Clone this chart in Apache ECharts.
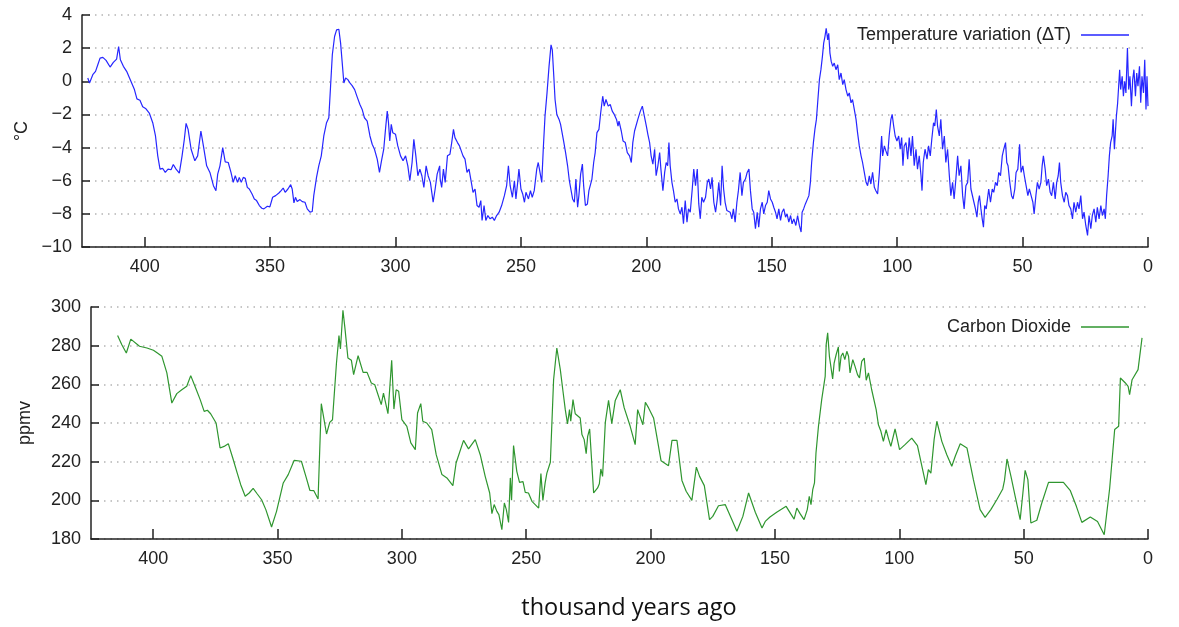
<!DOCTYPE html>
<html><head><meta charset="utf-8">
<script src="https://cdn.jsdelivr.net/npm/echarts@6/dist/echarts.min.js"></script>
<style>html,body{margin:0;padding:0;background:#fff}#c{width:1179px;height:627px}</style>
</head><body><div id="c"></div>
<script>
// ---- Data (thousand years ago, value) ----
const tempAge = [
422.7,422.0,420.7,419.6,418.7,417.8,416.7,415.4,413.8,412.5,411.2,410.4,409.7,408.5,407.2,405.5,404.1,403.1,401.9,400.8,399.5,398.1,396.8,395.7,394.8,393.9,392.8,391.8,390.7,389.5,388.6,387.5,386.2,385.1,384.2,383.5,382.7,381.5,380.0,378.9,377.6,376.6,375.3,374.0,372.6,371.6,370.9,370.0,368.9,367.9,366.7,365.6,364.7,363.9,363.0,362.3,361.5,360.7,359.9,359.1,358.3,357.2,356.3,355.4,354.3,353.3,
352.5,351.1,350.1,349.0,347.8,346.5,345.6,344.8,344.0,342.9,341.8,341.2,340.5,339.9,339.2,338.1,337.2,336.1,335.2,334.1,333.2,332.6,331.5,330.6,329.6,328.6,327.5,326.6,325.9,325.2,324.3,323.5,322.6,321.9,321.3,320.6,319.9,319.0,318.2,317.3,316.3,315.3,314.2,313.3,312.4,311.3,310.2,309.3,308.4,307.3,306.4,305.6,304.7,304.0,303.3,302.8,302.3,301.7,301.1,300.0,299.1,298.0,297.0,296.0,295.1,294.3,293.4,292.7,291.9,291.1,290.3,289.5,288.7,287.8,287.0,286.1,285.0,284.2,283.4,282.4,
282.2,281.6,280.9,280.2,279.3,278.3,277.6,276.9,276.3,275.3,274.5,273.9,273.1,272.3,271.5,270.7,269.9,269.1,268.3,267.5,266.7,266.0,265.5,264.7,264.0,263.2,262.3,261.4,260.6,259.7,258.7,257.7,256.6,255.7,255.0,254.3,253.4,252.6,252.0,251.3,250.8,250.0,249.3,248.6,248.0,247.0,246.2,245.5,244.7,243.7,243.1,242.4,241.7,241.1,240.4,239.6,238.8,238.0,237.5,236.9,236.4,235.7,234.8,234.2,233.5,233.0,232.2,231.4,230.7,230.0,229.4,228.7,228.1,227.4,226.9,226.2,225.5,225.0,224.3,223.5,222.9,222.2,221.7,221.0,220.4,219.7,218.9,218.2,217.4,216.8,216.1,215.2,214.4,213.6,212.8,211.9,211.3,
210.9,210.0,209.3,208.4,207.6,206.7,206.0,205.4,204.7,204.0,203.4,202.4,201.6,200.8,200.0,199.4,198.7,198.1,197.4,196.7,196.1,195.4,194.7,194.2,193.4,192.7,192.1,191.5,191.0,190.5,189.8,189.2,188.5,187.8,187.2,186.5,185.8,185.2,184.5,183.8,183.2,182.5,181.7,181.1,180.4,179.7,179.1,178.5,177.9,177.2,176.4,175.7,175.1,174.4,173.8,173.1,172.4,171.8,171.1,170.4,169.8,169.2,168.6,167.9,167.2,166.6,165.9,165.3,164.6,163.9,163.3,162.6,161.9,161.3,160.5,159.8,159.1,158.5,157.8,157.2,156.5,155.8,155.2,154.5,153.8,153.2,152.5,151.8,151.2,150.5,149.8,149.2,148.5,147.9,147.2,146.5,145.9,145.2,144.5,143.9,143.2,142.5,141.9,141.2,140.4,
139.7,139.0,138.3,137.9,137.3,136.6,136.0,135.2,134.6,134.1,133.4,132.8,132.2,131.7,131.0,130.4,129.8,129.3,128.8,128.3,127.7,127.3,126.8,126.3,125.7,125.1,124.4,123.7,123.1,122.4,121.7,121.1,120.4,119.7,119.1,118.4,117.8,117.1,116.4,115.8,115.1,114.4,113.8,113.1,112.4,111.8,111.1,110.5,109.8,109.1,108.5,107.8,107.1,106.7,106.2,105.8,105.1,104.5,103.8,103.2,102.5,102.0,101.4,100.8,100.1,99.4,98.8,98.2,97.7,97.2,96.5,95.8,95.2,94.5,93.9,93.2,92.5,91.9,91.2,90.5,90.1,89.6,88.9,88.1,87.5,86.8,86.2,85.5,85.0,84.4,83.9,83.2,82.6,81.9,81.2,80.6,79.9,79.2,78.6,77.9,77.3,76.6,75.9,75.3,74.6,73.9,73.3,72.6,71.9,71.3,70.6,
69.4,68.8,68.2,67.7,67.2,66.6,66.1,65.6,65.1,64.5,64.0,63.5,62.8,62.1,61.5,60.8,60.1,59.5,58.8,58.1,57.5,56.8,56.3,55.8,55.1,54.4,53.8,53.1,52.6,51.9,51.2,50.6,49.9,49.3,48.6,47.9,47.3,46.6,45.9,45.4,44.7,44.1,43.4,42.7,42.2,41.7,41.0,40.4,39.7,39.0,38.4,37.7,37.0,36.4,35.8,35.3,34.8,34.1,33.4,32.8,32.1,31.5,30.8,30.1,29.5,28.8,28.1,27.5,26.8,26.1,25.5,24.8,24.1,23.5,22.8,22.2,21.5,20.8,20.2,19.5,18.8,18.2,17.5,17.0,16.5,15.9,15.4,14.9,14.3,13.9,13.4,13.0,12.6,12.1,11.7,11.3,10.9,10.3,9.8,9.3,8.8,8.2,7.7,7.2,6.6,6.1,5.6,5.0,4.5,4.0,3.4,2.9,2.4,1.8,1.3,0.8,0.4,0.0
];
const tempVal = [
0.2,-0.1,0.4,0.6,1.0,1.4,1.44,1.26,0.86,1.14,1.34,2.1,1.3,0.9,0.6,0.0,-0.5,-1.06,-1.14,-1.54,-1.66,-1.94,-2.5,-3.3,-4.5,-5.3,-5.26,-5.5,-5.3,-5.34,-5.02,-5.3,-5.54,-4.5,-3.5,-2.54,-2.9,-4.1,-4.8,-4.5,-3.0,-3.9,-5.1,-5.5,-6.3,-6.6,-5.6,-5.1,-4.0,-4.86,-4.9,-5.5,-6.1,-5.7,-6.1,-5.8,-6.1,-5.8,-5.86,-6.4,-6.5,-6.8,-7.1,-7.2,-7.5,-7.66,
-7.7,-7.54,-7.58,-7.0,-6.9,-6.74,-6.6,-6.44,-6.7,-6.5,-6.24,-6.5,-7.34,-7.0,-7.26,-7.14,-7.26,-7.3,-7.7,-7.9,-7.86,-6.9,-5.8,-5.1,-4.5,-3.3,-2.5,-2.2,-0.3,1.6,2.7,3.1,3.14,2.3,1.2,-0.1,0.2,0.1,-0.1,-0.26,-0.5,-0.94,-1.4,-1.7,-2.2,-2.4,-3.3,-3.8,-4.1,-4.7,-5.5,-4.8,-4.1,-2.9,-1.8,-2.5,-3.6,-2.6,-3.1,-3.2,-3.9,-4.5,-4.8,-4.5,-5.1,-6.0,-4.9,-3.5,-4.5,-5.7,-5.3,-5.7,-6.4,-5.1,-5.7,-6.1,-7.3,-6.5,-5.6,-5.1,
-5.9,-6.4,-5.3,-6.1,-4.5,-4.4,-3.7,-2.9,-3.4,-3.7,-3.9,-3.8,-4.5,-4.7,-5.5,-5.3,-6.0,-6.7,-6.5,-7.5,-7.6,-7.2,-8.4,-7.5,-8.4,-8.1,-8.3,-8.2,-8.4,-8.1,-7.9,-7.5,-6.9,-6.3,-5.1,-6.3,-7.0,-6.0,-7.1,-6.1,-5.3,-6.5,-6.8,-7.3,-6.7,-7.1,-6.6,-7.0,-6.6,-5.3,-4.9,-5.5,-6.1,-4.1,-2.1,-0.7,0.9,2.2,1.9,0.3,-1.1,-2.0,-2.3,-2.6,-2.7,-3.6,-4.3,-5.1,-6.0,-5.9,-7.1,-7.3,-5.9,-7.6,-6.9,-5.6,-5.0,-6.3,-7.5,-7.4,-6.6,-6.5,-5.9,-4.9,-4.3,-3.1,-2.9,-1.9,-0.9,-1.5,-1.1,-1.5,-1.4,-1.8,-2.0,-2.3,-2.7,
-2.4,-3.0,-3.6,-3.7,-4.3,-4.5,-4.9,-3.7,-3.0,-3.1,-2.3,-1.8,-1.5,-2.1,-2.7,-3.2,-3.7,-4.5,-5.0,-4.1,-5.7,-5.1,-4.3,-5.3,-6.6,-5.5,-4.9,-5.1,-3.7,-5.1,-6.1,-6.6,-7.3,-7.1,-7.7,-8.0,-7.6,-8.6,-7.2,-8.5,-7.7,-7.9,-6.5,-5.3,-6.3,-5.3,-7.4,-8.3,-7.0,-7.3,-7.0,-6.1,-5.9,-6.5,-5.8,-7.3,-7.9,-7.2,-6.1,-7.5,-5.1,-6.5,-7.3,-7.8,-7.7,-7.9,-8.3,-7.7,-8.5,-7.3,-6.6,-5.5,-6.9,-6.1,-5.9,-5.5,-5.3,-6.6,-7.7,-7.9,-8.9,-7.9,-8.8,-7.7,-7.3,-8.0,-7.5,-7.3,-6.6,-7.1,-7.3,-7.6,-7.9,-8.3,-7.7,-8.4,-7.9,-7.7,-8.2,-8.0,-8.5,-8.1,-8.6,-8.3,-8.7,
-8.1,-8.7,-9.1,-7.9,-7.7,-7.4,-7.3,-6.9,-6.1,-4.9,-3.7,-2.9,-2.3,-1.3,0.1,0.7,1.5,2.3,2.7,3.2,2.5,2.9,1.7,1.2,0.9,1.1,0.7,1.0,0.1,0.5,-0.2,0.1,-0.5,-0.9,-0.7,-1.3,-1.1,-1.7,-2.3,-3.1,-3.9,-4.5,-4.9,-5.5,-6.1,-6.3,-5.7,-6.2,-5.5,-6.4,-6.6,-6.8,-5.5,-4.5,-3.3,-4.5,-3.9,-4.2,-4.5,-3.3,-2.3,-2.0,-2.7,-3.3,-3.6,-3.3,-4.1,-3.4,-5.1,-3.9,-3.7,-4.7,-3.4,-4.5,-3.3,-5.1,-4.1,-5.3,-4.5,-5.7,-6.6,-4.9,-4.1,-4.7,-3.9,-4.5,-3.5,-2.5,-2.7,-1.7,-2.7,-3.3,-2.3,-4.1,-3.3,-4.9,-4.1,-5.7,-6.9,-6.1,-7.1,-5.9,-4.5,-5.7,-5.1,-6.9,-7.7,-6.3,-6.1,-4.7,-6.5,
-7.3,-7.7,-8.2,-7.3,-6.9,-7.7,-8.3,-8.8,-7.5,-7.7,-7.1,-6.5,-7.3,-6.5,-6.7,-6.1,-6.3,-5.5,-5.7,-4.5,-4.1,-3.7,-4.9,-5.1,-6.1,-6.9,-7.1,-6.5,-5.5,-5.3,-3.8,-5.5,-5.1,-5.7,-6.3,-6.9,-6.5,-6.9,-7.3,-8.0,-6.9,-6.1,-6.5,-6.1,-5.1,-4.5,-5.3,-6.3,-5.9,-6.7,-6.9,-6.1,-7.1,-6.1,-5.7,-4.9,-6.1,-6.9,-7.3,-6.7,-6.9,-7.5,-7.7,-8.3,-7.3,-7.9,-7.3,-7.7,-6.9,-8.3,-7.9,-8.7,-9.3,-8.1,-8.9,-8.1,-7.7,-8.5,-7.6,-8.3,-7.5,-8.1,-7.7,-8.3,-6.9,-5.7,-4.5,-3.7,-3.3,-2.3,-4.1,-3.1,-2.1,-1.3,-0.3,0.7,-0.5,0.3,-0.9,0.0,-0.7,2.0,-0.5,0.3,-1.5,0.1,0.7,-0.9,0.5,-0.3,0.9,-1.3,0.3,-0.7,1.3,-1.7,0.3,-1.5
];
const co2Age = [
414.3,412.6,410.8,409.0,405.5,402.5,399.9,398.3,396.5,394.5,392.5,390.5,388.5,386.5,384.9,383.2,381.1,379.5,378.2,376.9,374.7,373.1,371.5,369.8,368.0,366.2,364.8,363.0,361.4,359.8,358.2,356.4,354.7,352.4,350.4,347.7,345.7,343.3,340.4,338.6,337.0,335.4,333.7,332.4,330.3,329.0,327.9,326.3,325.3,324.7,323.7,322.9,321.7,320.3,319.4,317.6,315.6,314.0,312.3,310.9,308.3,307.4,305.6,304.1,303.2,302.3,301.3,300.0,298.0,296.4,294.6,293.7,292.4,291.6,290.0,288.0,286.2,283.9,281.9,279.5,278.2,275.2,273.2,270.5,268.5,266.5,264.7,263.8,262.9,261.8,261.0,259.8,258.8,258.0,257.1,256.4,255.9,255.1,253.8,252.7,251.3,250.4,249.1,247.7,245.0,244.1,243.3,242.4,241.7,240.3,239.0,237.7,236.3,235.3,234.3,233.4,232.6,232.1,231.2,230.3,228.3,227.6,226.7,225.9,225.3,224.5,222.9,221.3,220.6,220.0,219.3,218.2,216.9,215.6,214.2,212.2,210.6,208.2,206.2,205.2,204.4,203.1,202.1,200.8,198.8,195.8,192.8,191.4,189.4,187.4,185.7,183.4,181.6,180.3,178.4,176.3,175.0,172.7,170.0,167.3,165.3,162.9,160.6,157.9,155.2,153.9,152.0,149.3,145.5,143.7,142.3,141.2,139.9,138.3,137.0,136.2,135.5,134.8,134.1,133.5,132.5,131.2,129.8,129.4,128.8,128.4,128.1,127.6,126.8,126.2,125.4,124.5,124.1,123.4,122.7,121.9,121.1,120.4,119.8,118.7,117.8,116.8,116.0,115.1,114.1,113.3,112.4,111.1,109.3,108.4,107.4,106.4,105.3,104.4,103.4,101.7,99.9,97.7,95.0,92.7,90.9,89.3,88.3,87.3,86.0,84.9,82.9,80.9,78.9,77.5,75.5,72.8,70.2,67.5,65.5,63.2,60.8,58.4,57.7,56.7,55.1,53.4,51.4,50.3,49.4,48.3,47.1,44.7,42.7,40.0,34.0,31.3,28.8,26.6,23.2,20.3,17.6,15.4,13.4,11.8,11.1,9.1,8.0,7.4,6.4,4.0,2.4
];
const co2Val = [
285.3,280.5,276.2,283.4,279.7,278.8,277.6,276.2,274.5,265.9,250.3,255.2,257.2,259.0,264.5,259.0,252.1,246.0,246.6,244.8,240.0,227.1,227.9,229.3,221.9,214.1,208.1,202.1,203.8,206.2,203.4,200.3,195.2,186.2,194.3,209.0,213.3,220.7,220.2,212.4,205.2,205.0,200.7,250.0,234.3,240.3,241.7,271.0,285.2,278.3,298.3,289.1,273.6,272.4,265.0,274.8,266.2,266.2,260.7,259.8,249.5,255.5,244.8,272.4,247.2,257.2,256.4,241.7,238.3,229.7,226.2,245.2,250.0,240.9,240.0,236.6,223.6,213.3,211.6,207.6,219.3,231.0,226.6,231.4,223.6,212.4,203.8,193.1,197.8,194.3,192.6,184.8,198.6,195.2,188.6,211.6,200.0,228.3,215.0,209.3,209.7,204.1,203.8,199.5,196.0,213.8,200.0,209.0,214.1,219.7,262.4,278.8,267.6,257.2,246.9,239.5,246.9,240.9,252.1,244.8,242.6,234.0,231.4,224.1,233.1,236.9,203.8,206.4,208.6,216.2,212.4,240.3,251.7,239.7,251.7,257.2,247.8,238.3,228.8,246.9,247.6,239.1,250.7,247.8,242.6,220.5,217.9,231.0,231.0,210.3,204.7,200.0,217.2,212.4,207.6,190.0,191.7,197.2,197.8,190.0,184.0,191.7,203.8,193.8,185.7,189.1,191.4,193.8,196.9,193.1,190.3,196.0,193.1,190.0,195.2,202.1,197.8,205.5,209.0,224.5,238.3,252.1,264.1,280.5,286.6,286.9,274.5,275.3,262.8,271.0,275.3,279.3,266.7,274.5,276.2,272.8,277.1,274.5,265.9,272.8,269.3,265.0,263.3,271.9,273.6,262.1,265.9,257.2,246.9,239.1,235.7,230.5,236.6,232.2,227.9,236.9,226.2,228.8,232.2,228.3,217.6,208.1,215.9,214.1,231.4,240.9,230.5,223.6,217.6,222.8,229.3,227.1,210.7,195.2,191.2,195.2,200.3,205.9,210.3,221.4,212.4,202.1,190.0,203.8,215.5,210.7,188.3,189.7,198.6,209.3,209.3,205.2,196.9,188.6,191.4,189.1,182.2,206.4,236.6,238.3,263.3,260.7,259.0,254.7,262.4,267.6,284.0
];
const xTickValues = [0, 50, 100, 150, 200, 250, 300, 350, 400];
const tempName = 'Temperature variation (ΔT)';
const co2Name = 'Carbon Dioxide';
const xTitle = 'thousand years ago';

// ---- Chart ----
const chart = echarts.init(document.getElementById('c'), null, {renderer: 'canvas'});
const AX = '#222';
const FONT = '"Liberation Sans", Arial, sans-serif';
const TEMP_C = '#2626ff';
const CO2_C = '#2f962f';
function xAxisCfg(gi) {
  return {
    gridIndex: gi, type: 'value', min: 0, max: 425, inverse: true, position: 'bottom',
    axisLine: {show: true, onZero: false, lineStyle: {color: AX, width: 1.5}},
    axisTick: {show: true, inside: true, length: 10, customValues: xTickValues, lineStyle: {color: AX, width: 1.5}},
    axisLabel: {customValues: xTickValues, fontSize: 18, color: AX, margin: 11, fontFamily: FONT},
    splitLine: {show: false}
  };
}
function yAxisCfg(gi, min, max, interval, name, gap) {
  return {
    gridIndex: gi, type: 'value', min: min, max: max, interval: interval, position: 'left',
    name: name, nameLocation: 'middle', nameGap: gap, nameRotate: 90,
    nameTextStyle: {fontSize: 18, color: AX, fontFamily: FONT},
    axisLine: {show: true, onZero: false, lineStyle: {color: AX, width: 1.5}},
    axisTick: {show: true, inside: true, length: 8, lineStyle: {color: AX, width: 1.5}},
    axisLabel: {fontSize: 18, color: AX, margin: 10, fontFamily: FONT,
      formatter: v => (v < 0 ? '\u2212' + Math.abs(v) : String(v))},
    splitLine: {show: true, lineStyle: {color: '#b4b4b4', width: 1.5, type: [1.5, 5]}}
  };
}
function legendCfg(name, top, color) {
  return {
    data: [name], right: 50, top: top, align: 'right', orient: 'horizontal', padding: 0,
    icon: 'rect', itemWidth: 48, itemHeight: 1.5,
    itemStyle: {color: color},
    textStyle: {fontSize: 18, color: AX, fontFamily: FONT, padding: [0, 5, 0, 0]},
    selectedMode: false
  };
}
chart.setOption({
  animation: false,
  backgroundColor: '#fff',
  grid: [
    {left: 82, top: 15, width: 1066, height: 232, containLabel: false, outerBoundsMode: 'none'},
    {left: 91, top: 307, width: 1057, height: 232, containLabel: false, outerBoundsMode: 'none'}
  ],
  xAxis: [xAxisCfg(0), xAxisCfg(1)],
  yAxis: [
    yAxisCfg(0, -10, 4, 2, '°C', 48),
    yAxisCfg(1, 180, 300, 20, 'ppmv', 57)
  ],
  legend: [legendCfg(tempName, 26, TEMP_C), legendCfg(co2Name, 318, CO2_C)],
  series: [
    {name: tempName, type: 'line', xAxisIndex: 0, yAxisIndex: 0,
     data: tempAge.map((a, i) => [a, tempVal[i]]),
     showSymbol: false, symbol: 'none', lineStyle: {color: TEMP_C, width: 1.2}, itemStyle: {color: TEMP_C}},
    {name: co2Name, type: 'line', xAxisIndex: 1, yAxisIndex: 1,
     data: co2Age.map((a, i) => [a, co2Val[i]]),
     showSymbol: false, symbol: 'none', lineStyle: {color: CO2_C, width: 1.2}, itemStyle: {color: CO2_C}}
  ],
  graphic: [{
    type: 'text', x: 629, y: 608,
    style: {text: xTitle, fontSize: 23.5, fill: '#111', fontFamily: '"Open Sans", sans-serif', align: 'center', verticalAlign: 'middle'}
  }]
});
</script>
</body></html>
